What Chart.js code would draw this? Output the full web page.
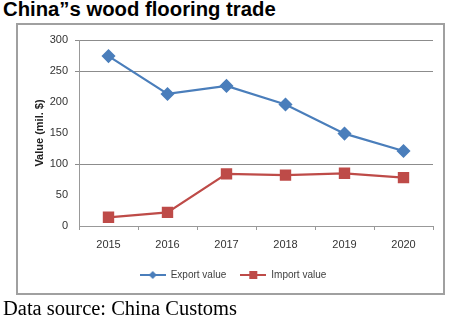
<!DOCTYPE html>
<html>
<head>
<meta charset="utf-8">
<script src="https://cdn.jsdelivr.net/npm/chart.js@4"></script>
<style>
  html, body { margin: 0; padding: 0; background: #fff; }
  body { width: 466px; height: 325px; position: relative; overflow: hidden; }
  #title { position: absolute; left: 3px; top: -2px; font: bold 20.3px "Liberation Sans", Arial, sans-serif; color: #000; white-space: nowrap; }
  #frame { position: absolute; left: 16px; top: 23px; width: 429px; height: 272px; box-sizing: border-box; border: 2px solid #a0a0a0; }
  #src { position: absolute; left: 3px; top: 297px; font: 20.5px "Liberation Serif", "Times New Roman", serif; color: #000; white-space: nowrap; }
  #wrap { position: absolute; left: 0; top: 0; width: 466px; height: 325px; }
</style>
</head>
<body>
<div id="title">China”s wood flooring trade</div>
<div id="frame"></div>
<div id="wrap"><canvas id="c" width="466" height="325"></canvas></div>
<div id="src">Data source: China Customs</div>
<script>
const categories = ['2015', '2016', '2017', '2018', '2019', '2020'];
const exportValues = [274, 213, 226, 196, 149, 121];
const importValues = [14, 22, 84, 82, 85, 78];
const seriesNames = ['Export value', 'Import value'];
const yAxisTitle = 'Value (mil. $)';
const shownGrid = [300, 250, 100];

const blue = '#4a7ebb';
const red = '#be4b48';

function legendIcon(color, style) {
  const cv = document.createElement('canvas');
  cv.width = 26; cv.height = 10;
  const g = cv.getContext('2d');
  g.strokeStyle = color; g.lineWidth = 2;
  g.beginPath(); g.moveTo(0, 5); g.lineTo(26, 5); g.stroke();
  g.fillStyle = color;
  if (style === 'diamond') {
    g.beginPath(); g.moveTo(13, 1); g.lineTo(17, 5); g.lineTo(13, 9); g.lineTo(9, 5); g.closePath(); g.fill();
  } else {
    g.fillRect(9, 1, 8, 8);
  }
  return cv;
}
const icons = [legendIcon(blue, 'diamond'), legendIcon(red, 'square')];

new Chart(document.getElementById('c'), {
  type: 'line',
  data: {
    labels: categories,
    datasets: [
      { label: seriesNames[0], data: exportValues, borderColor: blue, backgroundColor: blue,
        borderWidth: 2.2, pointStyle: 'rectRot', pointRadius: 5.5, tension: 0 },
      { label: seriesNames[1], data: importValues, borderColor: red, backgroundColor: red,
        borderWidth: 2.2, pointStyle: 'rect', pointRadius: 6.5, tension: 0 }
    ]
  },
  options: {
    responsive: false,
    animation: false,
    layout: { padding: { left: 33, right: 33, top: 40, bottom: 35 } },
    plugins: {
      tooltip: { enabled: false },
      legend: {
        position: 'bottom',
        labels: {
          usePointStyle: true,
          pointStyleWidth: 26,
          boxHeight: 10,
          padding: 14,
          color: '#404040',
          font: { family: '"Liberation Sans", Arial, sans-serif', size: 10 },
          generateLabels(chart) {
            return chart.data.datasets.map((ds, i) => ({
              text: ds.label, pointStyle: icons[i], fillStyle: ds.borderColor,
              strokeStyle: ds.borderColor, lineWidth: 0, fontColor: '#404040',
              hidden: false, datasetIndex: i
            }));
          }
        }
      }
    },
    scales: {
      x: {
        offset: true,
        grid: { offset: true, drawOnChartArea: false, drawTicks: true, tickLength: 4, color: '#999' },
        border: { color: '#999', width: 1 },
        ticks: { color: '#333', padding: 8, font: { family: '"Liberation Sans", Arial, sans-serif', size: 11 } },
        afterFit(s) { s.height = 30; }
      },
      y: {
        min: 0, max: 300,
        ticks: { stepSize: 50, color: '#333', padding: 7, font: { family: '"Liberation Sans", Arial, sans-serif', size: 11 } },
        grid: {
          tickLength: 4,
          color: ctx => (ctx.tick && shownGrid.includes(ctx.tick.value)) ? '#8c8c8c' : 'rgba(0,0,0,0)',
          lineWidth: 1
        },
        border: { color: '#999', width: 1 },
        title: { display: true, text: yAxisTitle, color: '#222', padding: 0,
          font: { family: '"Liberation Sans", Arial, sans-serif', size: 11, weight: 'bold' } },
        afterFit(s) { s.width = 46; }
      }
    }
  }
});
</script>
</body>
</html>
